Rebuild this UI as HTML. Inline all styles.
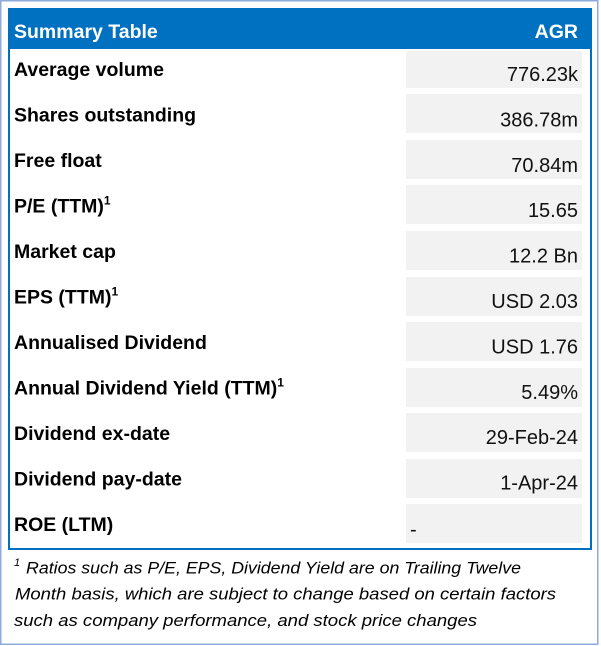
<!DOCTYPE html>
<html>
<head>
<meta charset="utf-8">
<style>
  html,body{margin:0;padding:0;background:#fff;}
  svg{display:block;}
  .lbl{font-family:"Liberation Sans",Arial,sans-serif;font-weight:bold;font-size:19.5px;fill:#000;}
  .val{font-family:"Liberation Sans",Arial,sans-serif;font-size:20px;fill:#111;text-anchor:end;}
  .sup{font-size:12px;}
  .fn{font-family:"Liberation Sans",Arial,sans-serif;font-style:italic;font-size:16.5px;fill:#000;}
</style>
</head>
<body>
<svg width="601" height="646" viewBox="0 0 601 646" xmlns="http://www.w3.org/2000/svg">
  <rect x="0" y="0" width="601" height="646" fill="#fff"/>
  <!-- outer frame -->
  <rect x="0.75" y="0.75" width="597" height="643.5" fill="none" stroke="#8EAADB" stroke-width="1.5"/>
  <!-- table border -->
  <rect x="9" y="9" width="582" height="540" fill="#fff" stroke="#0070C0" stroke-width="2"/>
  <!-- header -->
  <rect x="8" y="8" width="584" height="41" fill="#0070C0"/>
  <text x="14" y="38" class="lbl" style="fill:#fff">Summary Table</text>
  <text x="578" y="38" class="lbl" style="fill:#fff;text-anchor:end">AGR</text>

  <!-- value cells -->
  <g fill="#F2F2F2">
    <rect x="406" y="51" width="176" height="37"/>
    <rect x="406" y="94" width="176" height="39"/>
    <rect x="406" y="140" width="176" height="39"/>
    <rect x="406" y="185" width="176" height="39"/>
    <rect x="406" y="231" width="176" height="39"/>
    <rect x="406" y="277" width="176" height="39"/>
    <rect x="406" y="322" width="176" height="39"/>
    <rect x="406" y="368" width="176" height="39"/>
    <rect x="406" y="413" width="176" height="39"/>
    <rect x="406" y="459" width="176" height="39"/>
    <rect x="406" y="504" width="176" height="39"/>
  </g>

  <!-- labels -->
  <text x="14" y="76" class="lbl">Average volume</text>
  <text x="14" y="121.5" class="lbl">Shares outstanding</text>
  <text x="14" y="167" class="lbl">Free float</text>
  <text x="14" y="212.5" class="lbl">P/E (TTM)<tspan class="sup" dy="-8">1</tspan></text>
  <text x="14" y="258" class="lbl">Market cap</text>
  <text x="14" y="303.5" class="lbl">EPS (TTM)<tspan class="sup" dy="-8">1</tspan></text>
  <text x="14" y="349" class="lbl">Annualised Dividend</text>
  <text x="14" y="394.5" class="lbl">Annual Dividend Yield (TTM)<tspan class="sup" dy="-8">1</tspan></text>
  <text x="14" y="440" class="lbl">Dividend ex-date</text>
  <text x="14" y="485.5" class="lbl">Dividend pay-date</text>
  <text x="14" y="531" class="lbl">ROE (LTM)</text>

  <!-- values -->
  <text x="578" y="81" class="val">776.23k</text>
  <text x="578" y="126.4" class="val">386.78m</text>
  <text x="578" y="171.8" class="val">70.84m</text>
  <text x="578" y="217.2" class="val">15.65</text>
  <text x="578" y="262.6" class="val">12.2 Bn</text>
  <text x="578" y="308" class="val">USD 2.03</text>
  <text x="578" y="353.4" class="val">USD 1.76</text>
  <text x="578" y="398.8" class="val">5.49%</text>
  <text x="578" y="444.2" class="val">29-Feb-24</text>
  <text x="578" y="489.6" class="val">1-Apr-24</text>
  <text x="410" y="536" class="val" style="text-anchor:start">-</text>

  <!-- footnote -->
  <text x="14" y="566" class="fn" style="font-size:11px">1</text>
  <text x="26" y="573.5" class="fn" textLength="495" lengthAdjust="spacingAndGlyphs">Ratios such as P/E, EPS, Dividend Yield are on Trailing Twelve</text>
  <text x="15" y="599.5" class="fn" textLength="541" lengthAdjust="spacingAndGlyphs">Month basis, which are subject to change based on certain factors</text>
  <text x="14" y="626" class="fn" textLength="463" lengthAdjust="spacingAndGlyphs">such as company performance, and stock price changes</text>
</svg>
</body>
</html>
